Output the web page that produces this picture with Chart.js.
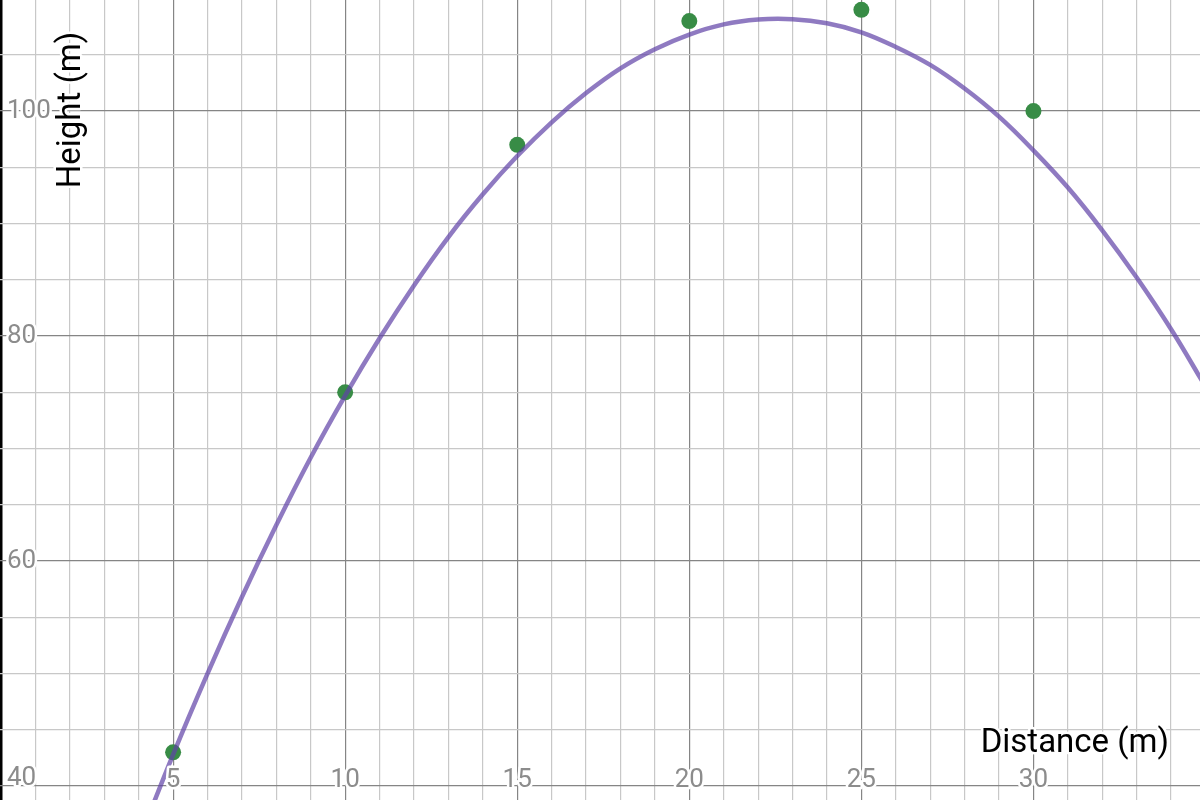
<!DOCTYPE html>
<html>
<head>
<meta charset="utf-8">
<title>Height vs Distance</title>
<script src="https://cdn.jsdelivr.net/npm/chart.js@4"></script>
<style>
    html, body { margin: 0; padding: 0; background: #fff; }
    #wrap { width: 1200px; height: 800px; position: relative; }
</style>
</head>
<body>
<div id="wrap"><canvas id="graph"></canvas></div>
<script>
// Measured points (distance in m, height in m)
const pointX = [5, 10, 15, 20, 25, 30];
const pointY = [43, 75, 97, 108, 109, 100];

// Fitted curve at each metre
const curveX = [4, 5, 6, 7, 8, 9, 10, 11, 12, 13, 14, 15, 16, 17, 18, 19,
                20, 21, 22, 23, 24, 25, 26, 27, 28, 29, 30, 31, 32, 33, 34, 35];
const curveY = [35.1, 42.8, 50.0, 56.8, 63.2, 69.2, 74.7, 79.8, 84.5, 88.8, 92.6, 96.0, 99.0, 101.6, 103.8, 105.5,
                106.8, 107.7, 108.13, 108.16, 107.8, 107.0, 105.7, 104.1, 102.0, 99.5, 96.5, 93.2, 89.4, 85.2, 80.6, 75.5];

// Tick labels shown on the graph
const xTickLabels = ['5', '10', '15', '20', '25', '30'];
const yTickLabels = ['40', '60', '80', '100'];

const xTitle = 'Distance (m)';
const yTitle = 'Height (m)';

const MINOR = '#c8c8c8';
const MAJOR = '#858585';

function toXY(xs, ys) {
    return xs.map((x, i) => ({ x: x, y: ys[i] }));
}

// Grid colour: axis black, every 5 m / 20 m darker, the rest light
function gridColor(majorEvery) {
    return function(ctx) {
        const v = ctx.tick.value;
        if (v === 0) return '#000';
        if (Math.abs(v - Math.round(v)) > 1e-6) return 'rgba(0,0,0,0)';
        return Math.round(v) % majorEvery === 0 ? MAJOR : MINOR;
    };
}

// Draw tick numbers and axis titles with a white halo
const labelsPlugin = {
    id: 'graphLabels',
    afterDatasetsDraw(chart) {
        const ctx = chart.ctx;
        const xs = chart.scales.x;
        const ys = chart.scales.y;
        const bottom = chart.chartArea.bottom;

        ctx.save();
        ctx.lineJoin = 'round';
        ctx.strokeStyle = '#fff';
        ctx.lineWidth = 5;

        ctx.font = '26px Roboto';
        ctx.fillStyle = '#8c8c8c';

        // x numbers sit near the bottom edge
        ctx.textAlign = 'center';
        ctx.textBaseline = 'alphabetic';
        xTickLabels.forEach(t => {
            const px = xs.getPixelForValue(Number(t));
            ctx.strokeText(t, px, bottom - 13);
            ctx.fillText(t, px, bottom - 13);
        });

        // y numbers along the left edge
        ctx.textAlign = 'left';
        ctx.textBaseline = 'middle';
        yTickLabels.forEach(t => {
            const py = Math.min(ys.getPixelForValue(Number(t)), bottom - 22);
            ctx.strokeText(t, 7, py);
            ctx.fillText(t, 7, py);
        });

        // axis titles
        ctx.font = '33px Roboto';
        ctx.fillStyle = '#000';
        ctx.textAlign = 'right';
        ctx.textBaseline = 'alphabetic';
        ctx.strokeText(xTitle, 1169, 752);
        ctx.fillText(xTitle, 1169, 752);

        ctx.translate(80, 110);
        ctx.rotate(-Math.PI / 2);
        ctx.textAlign = 'center';
        ctx.strokeText(yTitle, 0, 0);
        ctx.fillText(yTitle, 0, 0);
        ctx.restore();
    }
};

document.addEventListener('DOMContentLoaded', function() {
    const canvas = document.getElementById('graph');

    new Chart(canvas, {
        type: 'scatter',
        data: {
            datasets: [{
                type: 'line',
                label: 'fit',
                data: toXY(curveX, curveY),
                borderColor: 'rgba(96, 66, 166, 0.7)',
                borderWidth: 4.5,
                pointRadius: 0,
                tension: 0.4,
                fill: false,
                order: 0
            }, {
                label: 'measured',
                data: toXY(pointX, pointY),
                backgroundColor: '#388c46',
                borderWidth: 0,
                pointRadius: 8,
                order: 1
            }]
        },
        options: {
            responsive: true,
            maintainAspectRatio: false,
            animation: false,
            layout: { padding: 0, autoPadding: false },
            plugins: {
                legend: { display: false },
                tooltip: { enabled: false }
            },
            scales: {
                x: {
                    type: 'linear',
                    min: -0.03,
                    max: 34.84,
                    border: { display: false },
                    grid: {
                        drawTicks: false,
                        color: gridColor(5),
                        lineWidth: ctx => ctx.tick.value === 0 ? 2.5 : 1.2
                    },
                    ticks: { display: false, stepSize: 1, includeBounds: false, autoSkip: false, maxTicksLimit: 100 },
                    afterFit: s => { s.height = 0; }
                },
                y: {
                    type: 'linear',
                    min: 38.76,
                    max: 109.87,
                    border: { display: false },
                    grid: {
                        drawTicks: false,
                        color: gridColor(20),
                        lineWidth: 1.2
                    },
                    ticks: { display: false, stepSize: 5, includeBounds: false, autoSkip: false, maxTicksLimit: 100 },
                    afterFit: s => { s.width = 0; }
                }
            }
        },
        plugins: [labelsPlugin]
    });
});
</script>
</body>
</html>
